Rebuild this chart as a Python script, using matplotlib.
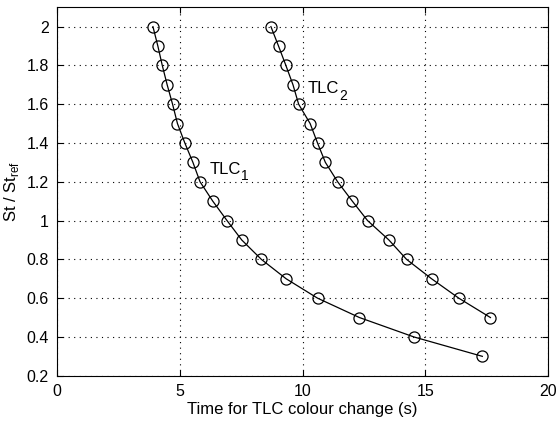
import numpy as np
import matplotlib.pyplot as plt
from matplotlib.transforms import offset_copy

plt.rcParams['font.family'] = ['Liberation Sans', 'DejaVu Sans']

# St / St_ref levels for both crystals
st_ratio_1 = [2.0, 1.9, 1.8, 1.7, 1.6, 1.5, 1.4, 1.3, 1.2, 1.1, 1.0, 0.9, 0.8, 0.7, 0.6, 0.5, 0.4, 0.3]
time_1 = [3.90, 4.10, 4.28, 4.48, 4.70, 4.90, 5.20, 5.53, 5.82, 6.34, 6.92, 7.52, 8.32, 9.33, 10.61, 12.32, 14.54, 17.33]

st_ratio_2 = [2.0, 1.9, 1.8, 1.7, 1.6, 1.5, 1.4, 1.3, 1.2, 1.1, 1.0, 0.9, 0.8, 0.7, 0.6, 0.5]
time_2 = [8.71, 9.02, 9.32, 9.61, 9.84, 10.31, 10.61, 10.93, 11.43, 12.03, 12.65, 13.52, 14.24, 15.26, 16.37, 17.66]

fig = plt.figure(figsize=(5.59, 4.26), dpi=100)
ax = fig.add_axes([0.1025, 0.118, 0.8775, 0.865])

for t, s in [(time_1, st_ratio_1), (time_2, st_ratio_2)]:
    ax.plot(t, s, '-', color='black', lw=0.9)
    ax.plot(t, s, 'o', mfc='none', mec='black', ms=8, mew=0.9)

ax.set_xlim(0, 20)
ax.set_ylim(0.2, 2.1)
ax.set_xticks(np.arange(0, 21, 5))
ax.set_yticks(np.arange(0.2, 2.01, 0.2))
ax.set_yticklabels(['0.2', '0.4', '0.6', '0.8', '1', '1.2', '1.4', '1.6', '1.8', '2'])
ax.tick_params(direction='in', top=True, right=True, labelsize=11.5, length=4, pad=6)
ax.grid(True, linestyle=(0, (1, 4)), color='black', lw=0.8)

ax.set_xlabel('Time for TLC colour change (s)', fontsize=12, labelpad=2)
ax.set_ylabel('St / St$_{\\mathregular{ref}}$', fontsize=12, labelpad=4)

# curve labels with a large, low subscript
fig.canvas.draw()
renderer = fig.canvas.get_renderer()
for x, y, sub in [(6.2, 1.265, '1'), (10.2, 1.68, '2')]:
    t = ax.text(x, y, 'TLC', fontsize=12, va='center')
    w = t.get_window_extent(renderer).width * 72 / fig.dpi
    tr = offset_copy(ax.transData, fig=fig, x=w, y=-5, units='points')
    ax.text(x, y, sub, fontsize=10, va='center', transform=tr)

fig.savefig('out.png', dpi=100)
